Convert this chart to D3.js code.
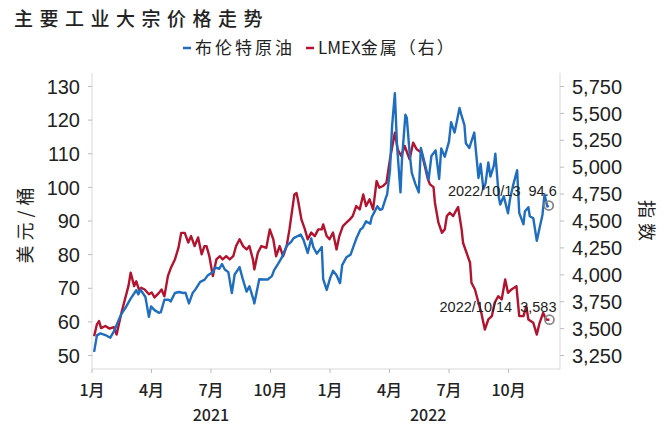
<!DOCTYPE html>
<html>
<head>
<meta charset="utf-8">
<script src="https://cdn.jsdelivr.net/npm/d3@7/dist/d3.min.js"></script>
<style>
  body { margin: 0; background: #fff; }
  text { font-family: "Noto Sans CJK SC", sans-serif; fill: #222; }
  .num { font-family: "Liberation Sans", Arial, sans-serif; }
</style>
</head>
<body>
<script>
// 画布尺寸
var width = 667;
var height = 426;

// 布伦特原油 (美元/桶)
var brentDates = ['2021-01-04','2021-01-08','2021-01-13','2021-01-20','2021-01-27','2021-02-02','2021-02-08','2021-02-12','2021-02-18','2021-02-25',
  '2021-03-05','2021-03-08','2021-03-11','2021-03-18','2021-03-23','2021-03-26','2021-03-31','2021-04-06','2021-04-09','2021-04-14',
  '2021-04-20','2021-04-23','2021-04-29','2021-05-05','2021-05-11','2021-05-14','2021-05-19','2021-05-24','2021-05-28','2021-06-04',
  '2021-06-10','2021-06-15','2021-06-22','2021-06-25','2021-07-01','2021-07-05','2021-07-09','2021-07-14','2021-07-19','2021-07-23',
  '2021-07-30','2021-08-04','2021-08-09','2021-08-13','2021-08-19','2021-08-20','2021-08-27','2021-09-03','2021-09-08','2021-09-14',
  '2021-09-17','2021-09-23','2021-09-28','2021-10-05','2021-10-11','2021-10-15','2021-10-25','2021-10-29','2021-11-04','2021-11-09',
  '2021-11-12','2021-11-17','2021-11-24','2021-11-26','2021-12-01','2021-12-06','2021-12-10','2021-12-15','2021-12-20','2021-12-23',
  '2021-12-29','2022-01-04','2022-01-07','2022-01-12','2022-01-18','2022-01-21','2022-01-26','2022-02-01','2022-02-03','2022-02-07',
  '2022-02-11','2022-02-15','2022-02-18','2022-02-23','2022-02-25','2022-03-01','2022-03-04','2022-03-08','2022-03-11','2022-03-16',
  '2022-03-18','2022-03-23','2022-03-25','2022-03-29','2022-04-01','2022-04-06','2022-04-11','2022-04-14','2022-04-20','2022-04-25',
  '2022-04-29','2022-05-05','2022-05-10','2022-05-13','2022-05-18','2022-05-24','2022-05-27','2022-06-01','2022-06-08','2022-06-10',
  '2022-06-15','2022-06-17','2022-06-22','2022-06-24','2022-06-29','2022-07-01','2022-07-05','2022-07-08','2022-07-12','2022-07-15',
  '2022-07-19','2022-07-22','2022-07-27','2022-07-29','2022-08-03','2022-08-05','2022-08-10','2022-08-16','2022-08-19','2022-08-24',
  '2022-08-29','2022-09-01','2022-09-07','2022-09-09','2022-09-14','2022-09-16','2022-09-21','2022-09-26','2022-09-30','2022-10-04',
  '2022-10-07','2022-10-11','2022-10-13'];
var brentValues = [51.1,56.0,56.6,56.1,55.3,57.5,60.6,62.4,64.3,66.9,
  69.4,68.2,69.6,67.4,61.5,64.6,63.5,62.7,62.9,66.6,
  66.6,66.1,68.6,68.9,68.6,68.7,65.5,68.5,69.6,71.9,
  72.5,73.9,74.8,76.2,75.8,77.2,75.6,74.8,68.6,74.1,
  76.3,72.4,69.0,70.6,66.5,65.5,72.7,72.6,72.6,73.6,
  75.3,77.3,79.1,82.6,83.7,84.9,86.0,84.4,80.5,84.8,
  82.2,80.3,82.3,72.7,69.5,73.1,75.2,73.9,71.5,76.9,
  79.2,80.0,81.8,84.7,87.5,87.9,89.9,89.2,91.1,92.7,
  94.4,93.3,93.5,96.8,97.9,105.0,118.1,128.0,112.7,98.5,
  107.9,121.6,120.7,110.2,104.4,101.1,98.5,111.7,106.8,102.3,
  109.3,111.0,102.5,111.6,109.1,113.6,119.4,116.3,123.6,122.0,
  118.5,113.1,111.7,113.1,116.3,111.6,102.8,107.0,99.5,101.2,
  107.4,103.2,106.6,110.0,97.0,94.9,97.4,92.3,96.7,101.2,
  105.1,92.4,89.0,92.8,94.1,91.4,90.8,84.1,88.0,91.8,
  97.9,94.3,94.6];

// LMEX金属指数 (右轴)
var lmexDates = ['2021-01-04','2021-01-08','2021-01-11','2021-01-14','2021-01-20','2021-01-26','2021-02-01','2021-02-05','2021-02-12','2021-02-18',
  '2021-02-22','2021-02-25','2021-03-02','2021-03-05','2021-03-09','2021-03-12','2021-03-17','2021-03-23','2021-03-27','2021-03-31',
  '2021-04-06','2021-04-10','2021-04-14','2021-04-19','2021-04-23','2021-04-29','2021-05-04','2021-05-08','2021-05-13','2021-05-18',
  '2021-05-22','2021-05-27','2021-06-01','2021-06-06','2021-06-10','2021-06-13','2021-06-17','2021-06-22','2021-06-27','2021-07-02',
  '2021-07-06','2021-07-11','2021-07-16','2021-07-21','2021-07-25','2021-07-30','2021-08-04','2021-08-09','2021-08-13','2021-08-18',
  '2021-08-20','2021-08-25','2021-08-30','2021-09-06','2021-09-11','2021-09-16','2021-09-20','2021-09-25','2021-09-30','2021-10-05',
  '2021-10-09','2021-10-16','2021-10-19','2021-10-21','2021-10-26','2021-10-31','2021-11-04','2021-11-09','2021-11-14','2021-11-19',
  '2021-11-24','2021-11-26','2021-12-01','2021-12-05','2021-12-10','2021-12-15','2021-12-19','2021-12-24','2021-12-29','2022-01-03',
  '2022-01-07','2022-01-12','2022-01-17','2022-01-22','2022-01-26','2022-01-31','2022-02-05','2022-02-10','2022-02-14','2022-02-19',
  '2022-02-24','2022-03-01','2022-03-08','2022-03-12','2022-03-17','2022-03-22','2022-03-29','2022-04-03','2022-04-08','2022-04-15',
  '2022-04-20','2022-04-24','2022-04-27','2022-05-02','2022-05-04','2022-05-09','2022-05-14','2022-05-18','2022-05-21','2022-05-25',
  '2022-05-30','2022-06-04','2022-06-06','2022-06-11','2022-06-13','2022-06-18','2022-06-23','2022-06-25','2022-06-30','2022-07-05',
  '2022-07-09','2022-07-14','2022-07-19','2022-07-24','2022-07-28','2022-08-02','2022-08-07','2022-08-12','2022-08-16','2022-08-21',
  '2022-08-28','2022-09-01','2022-09-07','2022-09-11','2022-09-14','2022-09-21','2022-09-26','2022-09-30','2022-10-05','2022-10-09',
  '2022-10-14'];
var lmexValues = [3430,3540,3570,3505,3525,3500,3515,3445,3650,3800,
  3900,4020,3895,3940,3860,3880,3864,3820,3836,3790,
  3830,3864,3800,3988,4060,4143,4250,4390,4390,4300,
  4360,4267,4347,4190,4267,4267,4173,3988,4143,4173,
  4143,4173,4143,4173,4267,4330,4267,4236,4267,4143,
  4050,4205,4267,4250,4422,4330,4173,4267,4173,4267,
  4422,4747,4760,4700,4515,4422,4330,4392,4360,4422,
  4422,4468,4360,4330,4392,4236,4360,4453,4484,4515,
  4546,4639,4608,4747,4639,4701,4608,4871,4809,4825,
  4856,5073,5321,5166,5104,5197,5073,5228,5166,5135,
  5000,4887,4840,4815,4670,4484,4391,4422,4546,4577,
  4546,4608,4630,4422,4298,4205,4112,3926,3864,3740,
  3647,3492,3585,3616,3740,3801,3771,3957,3833,3864,
  3895,3616,3616,3708,3585,3554,3445,3554,3647,3585,
  3583];

var leftTicks = [50, 60, 70, 80, 90, 100, 110, 120, 130];
var rightTicks = [3250, 3500, 3750, 4000, 4250, 4500, 4750, 5000, 5250, 5500, 5750];
var monthLabels = ['1月', '4月', '7月', '10月', '1月', '4月', '7月', '10月'];
var yearLabels = ['2021', '2022'];

var padding = { top: 73, right: 107, bottom: 57, left: 92 };
var blue = '#1f6dbf';
var red = '#b2132e';

var parse = d3.timeParse('%Y-%m-%d');
var brent = brentDates.map(function (d, i) { return { date: parse(d), value: brentValues[i] }; });
var lmex = lmexDates.map(function (d, i) { return { date: parse(d), value: lmexValues[i] }; });

var svg = d3.select('body')
  .append('svg')
  .attr('width', width)
  .attr('height', height);

svg.append('rect').attr('width', width).attr('height', height).attr('fill', '#fff');

var x0 = padding.left, x1 = width - padding.right;
var y0 = height - padding.bottom, y1 = padding.top;

var xScale = d3.scaleTime()
  .domain([new Date(2021, 0, 1), new Date(2022, 9, 29)])
  .range([x0, x1]);

// 刻度标签按等距排列(与原图一致)
var tickScale = d3.scaleLinear()
  .domain([0, monthLabels.length - 1])
  .range([x0, x0 + (x1 - x0) * 0.89]);

var yLeft = d3.scaleLinear().domain([46, 134]).range([y0, y1]);
var yRight = d3.scaleLinear().domain([3125, 5875]).range([y0, y1]);

// 轴线
var axisColor = '#d9d9d9';
svg.append('line').attr('x1', x0).attr('x2', x0).attr('y1', y1).attr('y2', y0).attr('stroke', axisColor);
svg.append('line').attr('x1', x1).attr('x2', x1).attr('y1', y1).attr('y2', y0).attr('stroke', axisColor);
svg.append('line').attr('x1', x0).attr('x2', x1).attr('y1', y0).attr('y2', y0).attr('stroke', axisColor);

// 左轴
var gl = svg.append('g');
gl.selectAll('line').data(leftTicks).enter().append('line')
  .attr('x1', x0 - 4).attr('x2', x0)
  .attr('y1', function (d) { return yLeft(d); })
  .attr('y2', function (d) { return yLeft(d); })
  .attr('stroke', '#bbb');
gl.selectAll('text').data(leftTicks).enter().append('text')
  .attr('class', 'num')
  .attr('x', x0 - 12)
  .attr('y', function (d) { return yLeft(d); })
  .attr('dy', '0.36em')
  .attr('text-anchor', 'end')
  .style('font-size', '20px')
  .text(function (d) { return d; });

// 右轴
var fmt = d3.format(',');
var gr = svg.append('g');
gr.selectAll('line').data(rightTicks).enter().append('line')
  .attr('x1', x1).attr('x2', x1 + 4)
  .attr('y1', function (d) { return yRight(d); })
  .attr('y2', function (d) { return yRight(d); })
  .attr('stroke', '#bbb');
gr.selectAll('text').data(rightTicks).enter().append('text')
  .attr('class', 'num')
  .attr('x', x1 + 12)
  .attr('y', function (d) { return yRight(d); })
  .attr('dy', '0.36em')
  .style('font-size', '20px')
  .text(function (d) { return fmt(d); });

// 底轴
var gb = svg.append('g');
gb.selectAll('line').data(monthLabels).enter().append('line')
  .attr('x1', function (d, i) { return tickScale(i); })
  .attr('x2', function (d, i) { return tickScale(i); })
  .attr('y1', y0).attr('y2', y0 + 4)
  .attr('stroke', '#bbb');
gb.selectAll('text').data(monthLabels).enter().append('text')
  .attr('x', function (d, i) { return tickScale(i); })
  .attr('y', y0 + 21)
  .attr('dy', '0.35em')
  .attr('text-anchor', 'middle')
  .style('font-size', '16px')
  .style('font-weight', 500)
  .text(function (d) { return d; });
// 年份居中于各自区间
var yearSpans = [[0, 4], [4, 7.3]];
gb.selectAll('text.year').data(yearLabels).enter().append('text')
  .attr('class', 'year')
  .attr('x', function (d, i) { return (tickScale(yearSpans[i][0]) + tickScale(yearSpans[i][1])) / 2; })
  .attr('y', y0 + 46)
  .attr('dy', '0.35em')
  .attr('text-anchor', 'middle')
  .style('font-size', '16px')
  .style('font-weight', 500)
  .text(function (d) { return d; });

// 轴标题
svg.append('text')
  .attr('transform', 'translate(26,' + ((y0 + y1) / 2 + 2) + ') rotate(-90)')
  .attr('text-anchor', 'middle')
  .attr('dy', '0.35em')
  .style('font-size', '18px')
  .style('letter-spacing', '5px')
  .text('美元/桶');
svg.append('text')
  .attr('transform', 'translate(646,' + ((y0 + y1) / 2 + 2) + ') rotate(90)')
  .attr('text-anchor', 'middle')
  .attr('dy', '0.35em')
  .style('font-size', '18px')
  .style('letter-spacing', '5px')
  .text('指数');

// 折线
var lineL = d3.line().x(function (d) { return xScale(d.date); }).y(function (d) { return yLeft(d.value); });
var lineR = d3.line().x(function (d) { return xScale(d.date); }).y(function (d) { return yRight(d.value); });

svg.append('path').datum(lmex)
  .attr('fill', 'none').attr('stroke', red).attr('stroke-width', 2.4)
  .attr('stroke-linejoin', 'round')
  .attr('d', lineR);
svg.append('path').datum(brent)
  .attr('fill', 'none').attr('stroke', blue).attr('stroke-width', 2.4)
  .attr('stroke-linejoin', 'round')
  .attr('d', lineL);

// 最新值标注
var lastB = brent[brent.length - 1];
var lastL = lmex[lmex.length - 1];
svg.append('circle').attr('cx', xScale(lastB.date)).attr('cy', yLeft(lastB.value)).attr('r', 4.5)
  .attr('fill', 'none').attr('stroke', '#888').attr('stroke-width', 1.8);
svg.append('circle').attr('cx', xScale(lastL.date)).attr('cy', yRight(lastL.value)).attr('r', 4.5)
  .attr('fill', 'none').attr('stroke', '#888').attr('stroke-width', 1.8);
svg.append('text').attr('class', 'num')
  .attr('x', xScale(lastB.date) + 8).attr('y', yLeft(lastB.value) - 15)
  .attr('dy', '0.35em').attr('text-anchor', 'end')
  .style('font-size', '14.5px').style('white-space', 'pre')
  .text(d3.timeFormat('%Y/%m/%d')(lastB.date) + '  ' + lastB.value);
svg.append('text').attr('class', 'num')
  .attr('x', xScale(lastL.date) + 7).attr('y', yRight(lastL.value) - 13)
  .attr('dy', '0.35em').attr('text-anchor', 'end')
  .style('font-size', '14.5px').style('white-space', 'pre')
  .text(d3.timeFormat('%Y/%m/%d')(lastL.date) + '  ' + fmt(lastL.value));

// 标题
svg.append('text')
  .attr('x', 14).attr('y', 19).attr('dy', '0.35em')
  .style('font-size', '19px').style('font-weight', 500).style('letter-spacing', '6.5px')
  .text('主要工业大宗价格走势');

// 图例 (拉丁字母不加字距)
var legend = [
  { parts: [['布伦特原油', '3px']], color: blue, x: 183 },
  { parts: [['LMEX', '0px'], ['金属（右）', '2px']], color: red, x: 306 }
];
var lg = svg.append('g').selectAll('g').data(legend).enter().append('g')
  .attr('transform', function (d) { return 'translate(' + d.x + ',48)'; });
lg.append('line').attr('x1', 0).attr('x2', 8).attr('y1', 0).attr('y2', 0)
  .attr('stroke', function (d) { return d.color; }).attr('stroke-width', 2.5);
lg.append('text').attr('x', 12).attr('dy', '0.35em')
  .style('font-size', '17px')
  .selectAll('tspan').data(function (d) { return d.parts; }).enter().append('tspan')
  .style('letter-spacing', function (p) { return p[1]; })
  .text(function (p) { return p[0]; });
</script>
</body>
</html>
